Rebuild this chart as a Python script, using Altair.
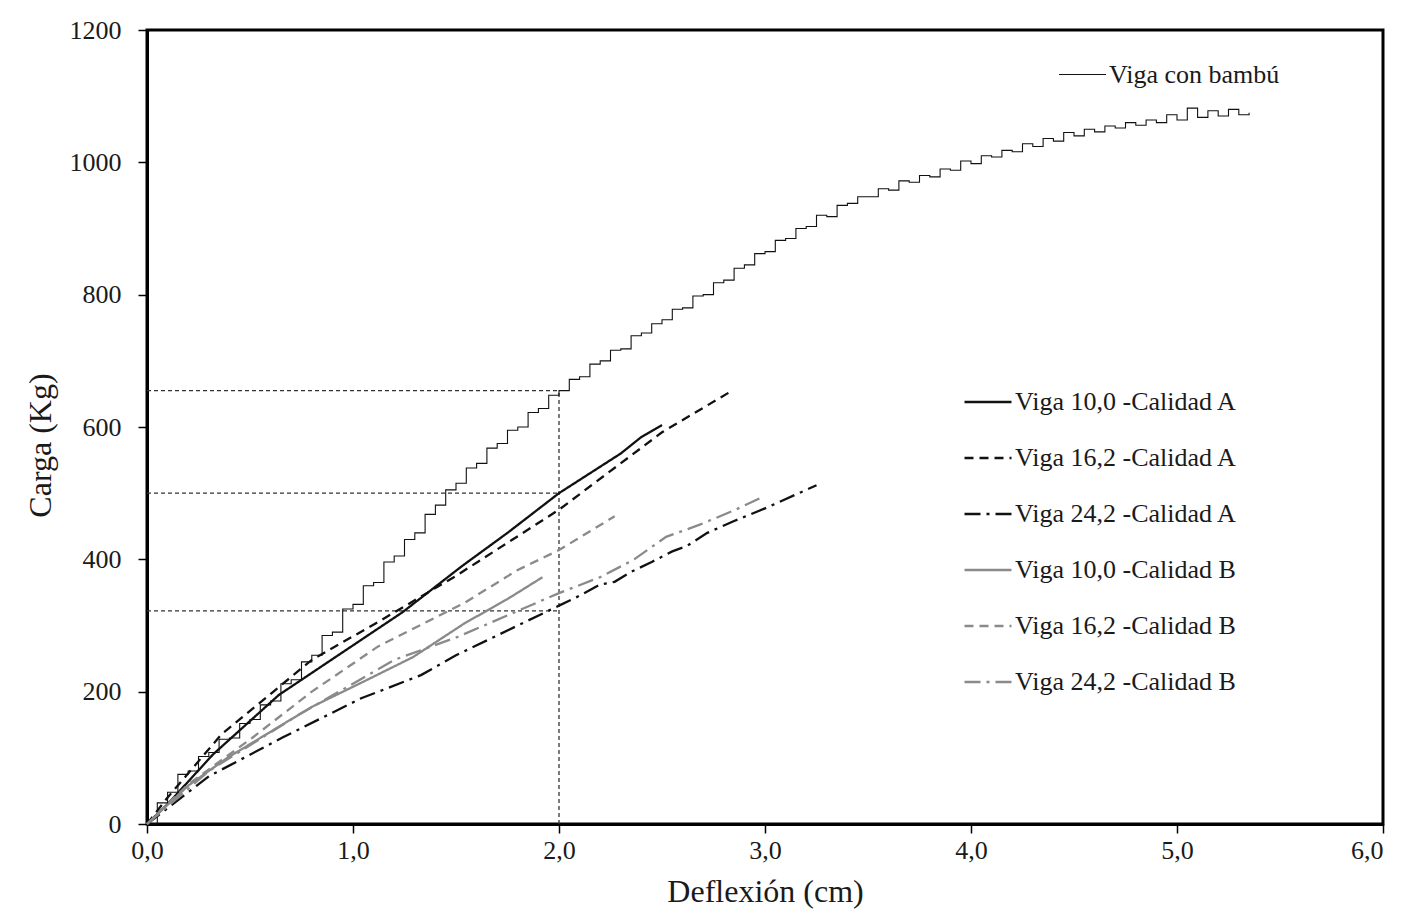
import altair as alt
import pandas as pd

# ---------------- data ----------------
bambu_x = [0.00, 0.05, 0.10, 0.15, 0.20, 0.25, 0.30, 0.35, 0.40, 0.45, 0.50, 0.55, 0.60, 0.65,
           0.70, 0.75, 0.80, 0.85, 0.90, 0.95, 1.00, 1.05, 1.10, 1.15, 1.20, 1.25, 1.30, 1.35,
           1.40, 1.45, 1.50, 1.55, 1.60, 1.65, 1.70, 1.75, 1.80, 1.85, 1.90, 1.95, 2.00, 2.05,
           2.10, 2.15, 2.20, 2.25, 2.30, 2.35, 2.40, 2.45, 2.50, 2.55, 2.60, 2.65, 2.70, 2.75,
           2.80, 2.85, 2.90, 2.95, 3.00, 3.05, 3.10, 3.15, 3.20, 3.25, 3.30, 3.35, 3.40, 3.45,
           3.50, 3.55, 3.60, 3.65, 3.70, 3.75, 3.80, 3.85, 3.90, 3.95, 4.00, 4.05, 4.10, 4.15,
           4.20, 4.25, 4.30, 4.35, 4.40, 4.45, 4.50, 4.55, 4.60, 4.65, 4.70, 4.75, 4.80, 4.85,
           4.90, 4.95, 5.00, 5.05, 5.10, 5.15, 5.20, 5.25, 5.30, 5.35]
bambu_y = [0, 32, 48, 75, 80, 102, 108, 128, 130, 152, 158, 180, 186, 212,
           218, 245, 255, 285, 290, 325, 332, 360, 365, 396, 405, 430, 440, 468,
           482, 505, 515, 538, 545, 568, 575, 595, 600, 622, 628, 648, 655, 672,
           676, 695, 700, 716, 718, 738, 742, 756, 762, 778, 780, 798, 800, 818,
           822, 840, 845, 862, 865, 882, 885, 900, 903, 920, 918, 935, 938, 948,
           948, 960, 958, 972, 970, 980, 978, 990, 988, 1002, 998, 1010, 1008, 1018,
           1016, 1028, 1024, 1036, 1032, 1045, 1040, 1050, 1046, 1055, 1052, 1060, 1056, 1064,
           1060, 1072, 1064, 1082, 1068, 1078, 1070, 1080, 1072, 1075]

a10_x = [0, 0.10, 0.32, 0.64, 1.00, 1.24, 1.53, 1.75, 2.00, 2.10, 2.20, 2.30, 2.40, 2.50]
a10_y = [0, 30, 105, 195, 270, 320, 390, 440, 500, 520, 540, 560, 585, 603]

a16_x = [0, 0.10, 0.36, 0.80, 1.12, 1.50, 2.00, 2.50, 2.83]
a16_y = [0, 40, 135, 248, 305, 375, 475, 592, 653]

a24_x = [0, 0.30, 0.66, 1.04, 1.33, 1.50, 2.00, 2.10, 2.20, 2.27, 2.35, 2.45, 2.55, 2.62,
         2.72, 2.85, 3.00, 3.15, 3.25]
a24_y = [0, 72, 131, 190, 225, 255, 330, 345, 362, 366, 381, 396, 412, 420,
         440, 458, 477, 498, 512]

b10_x = [0, 0.20, 0.39, 0.80, 1.05, 1.29, 1.54, 1.75, 1.92]
b10_y = [0, 58, 100, 177, 215, 252, 303, 340, 373]

b16_x = [0, 0.20, 0.51, 0.80, 1.12, 1.54, 1.80, 2.00, 2.27]
b16_y = [0, 60, 130, 200, 268, 334, 384, 414, 465]

b24_x = [0, 0.30, 0.72, 1.20, 1.51, 2.00, 2.20, 2.36, 2.52, 2.68, 2.85, 2.98]
b24_y = [0, 80, 162, 248, 283, 349, 373, 399, 434, 452, 474, 493]

series_names = ["Viga 10,0 -Calidad A", "Viga 16,2 -Calidad A", "Viga 24,2 -Calidad A",
                "Viga 10,0 -Calidad B", "Viga 16,2 -Calidad B", "Viga 24,2 -Calidad B"]
bambu_name = "Viga con bambú"

# dotted guide lines
guide_x = [0, 0, 0, 2.0]
guide_x2 = [2.0, 2.0, 2.0, 2.0]
guide_y = [655, 500, 322, 0]
guide_y2 = [655, 500, 322, 655]

x_ticks = [0, 1, 2, 3, 4, 5, 6]
y_ticks = [0, 200, 400, 600, 800, 1000, 1200]

# ---------------- styles ----------------
BLACK = "#111111"
GRAY = "#8a8a8a"
series_colors = [BLACK, BLACK, BLACK, GRAY, GRAY, GRAY]
series_dash = [[1, 0], [9, 6], [16, 6, 3, 6], [1, 0], [9, 6], [16, 6, 3, 6]]
FONT = "Liberation Serif"

# ---------------- tables ----------------
rows = []
for name, xs, ys in zip(series_names,
                        [a10_x, a16_x, a24_x, b10_x, b16_x, b24_x],
                        [a10_y, a16_y, a24_y, b10_y, b16_y, b24_y]):
    for i, (x, y) in enumerate(zip(xs, ys)):
        rows.append({"serie": name, "x": x, "y": y, "orden": i})
df_series = pd.DataFrame(rows)

df_bambu = pd.DataFrame({"serie": bambu_name, "x": bambu_x, "y": bambu_y,
                         "orden": list(range(len(bambu_x)))})

df_guides = pd.DataFrame({"x": guide_x, "x2": guide_x2, "y": guide_y, "y2": guide_y2})

xscale = alt.Scale(domain=[0, 6], nice=False, zero=False)
yscale = alt.Scale(domain=[0, 1200], nice=False)

X = alt.X("x:Q", scale=xscale,
          axis=alt.Axis(values=x_ticks, title="Deflexión (cm)",
                        labelExpr="replace(format(datum.value, '.1f'), '.', ',')",
                        labelAlign=alt.condition("datum.value >= 6", alt.value("right"),
                                                 alt.value("center")),
                        labelFlush=False, labelPadding=4, titlePadding=13))
Y = alt.Y("y:Q", scale=yscale,
          axis=alt.Axis(values=y_ticks, title="Carga (Kg)", format="d",
                        labelFlush=False, labelPadding=17, titlePadding=12, titleY=415))

legend_common = dict(orient="none", title=None, symbolType="stroke", symbolSize=2209,
                     labelFont=FONT, labelFontSize=26, labelColor="#1a1a1a", labelOffset=2,
                     padding=0, rowPadding=18, labelLimit=400)

guides = alt.Chart(df_guides).mark_rule(
    color="#333333", strokeWidth=1.3, strokeDash=[4, 3]
).encode(x=X, x2="x2:Q", y=Y, y2="y2:Q")

bambu = alt.Chart(df_bambu).mark_line(
    strokeWidth=1.1, interpolate="step-after"
).encode(
    x=X, y=Y, order="orden:Q",
    color=alt.Color("serie:N", scale=alt.Scale(domain=[bambu_name], range=[BLACK]),
                    legend=alt.Legend(legendX=911, legendY=20, symbolStrokeWidth=1.2,
                                      **legend_common)),
)

legend_series = alt.Legend(legendX=816, legendY=347, symbolStrokeWidth=2.5, **legend_common)

series = alt.Chart(df_series).mark_line(strokeWidth=2.3).encode(
    x=X, y=Y, order="orden:Q",
    color=alt.Color("serie:N", scale=alt.Scale(domain=series_names, range=series_colors),
                    legend=legend_series),
    strokeDash=alt.StrokeDash("serie:N", scale=alt.Scale(domain=series_names, range=series_dash),
                              legend=legend_series),
)

chart = alt.layer(guides, bambu, series).resolve_scale(
    color="independent", strokeDash="independent"
).properties(
    width=1236, height=794,
    background="white",
    autosize=alt.AutoSizeParams(type="none"),
    padding={"left": 139, "top": 22, "right": 14, "bottom": 85},
).configure_view(
    stroke="black", strokeWidth=3
).configure_axis(
    grid=False, domainColor="black", domainWidth=3,
    tickColor="black", tickWidth=1.5, tickSize=9,
    labelFont=FONT, labelFontSize=26, labelColor="#1a1a1a",
    titleFont=FONT, titleFontSize=32, titleFontWeight="normal", titleColor="#1a1a1a",
)

chart.save("out.html", embed_options={"renderer": "svg", "actions": False})
